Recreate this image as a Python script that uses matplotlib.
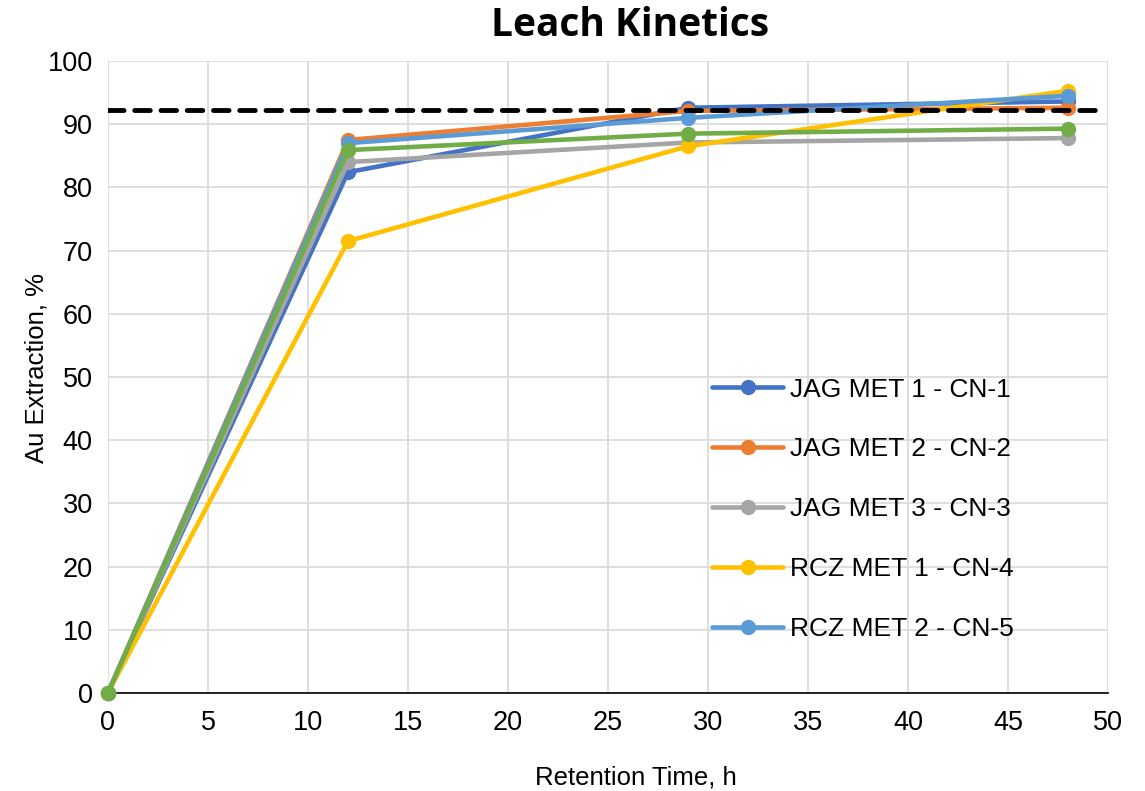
import matplotlib
matplotlib.use("Agg")
import matplotlib.pyplot as plt

time_h = [0, 12, 29, 48]
labels = ["JAG MET 1 - CN-1", "JAG MET 2 - CN-2", "JAG MET 3 - CN-3",
          "RCZ MET 1 - CN-4", "RCZ MET 2 - CN-5"]
jag1 = [0, 82.4, 92.6, 93.6]
jag2 = [0, 87.5, 92.1, 92.6]
jag3 = [0, 84.0, 87.1, 87.8]
rcz1 = [0, 71.5, 86.5, 95.3]
rcz2 = [0, 87.0, 91.0, 94.5]
extra = [0, 85.9, 88.5, 89.3]
target = 92.2

colors = ["#4472C4", "#ED7D31", "#A5A5A5", "#FFC000", "#5B9BD5"]
green = "#70AD47"

plt.rcParams['font.family'] = ['Liberation Sans', 'DejaVu Sans']
fig = plt.figure(figsize=(11.45, 7.91), dpi=100)
ax = fig.add_axes([0.0943, 0.124, 0.8734, 0.7989])

for vals, lab, c in zip([jag1, jag2, jag3, rcz1, rcz2], labels, colors):
    ax.plot(time_h, vals, color=c, lw=3.3, marker='o', ms=10, label=lab,
            solid_capstyle='round', clip_on=False, zorder=3)
ax.plot(time_h, extra, color=green, lw=3.3, marker='o', ms=10,
        solid_capstyle='round', clip_on=False, zorder=3)
ax.plot([0, 49.6], [target, target], color='black', lw=3.5,
        dashes=(3.2, 2.2), dash_capstyle='round', zorder=4)

ax.set_xlim(0, 50)
ax.set_ylim(0, 100)
ax.set_xticks(range(0, 51, 5))
ax.set_yticks(range(0, 101, 10))
ax.grid(True, color='#dcdcdc', lw=1.3)
ax.set_axisbelow(True)
for s in ['left', 'right', 'top']:
    ax.spines[s].set_visible(False)
ax.spines['bottom'].set_color('black')
ax.spines['bottom'].set_linewidth(1.2)
ax.tick_params(length=0, labelsize=19.5)
ax.tick_params(axis='x', pad=12)
ax.tick_params(axis='y', pad=11)

fig.text(630 / 1145, 1 - 26 / 791, "Leach Kinetics", fontsize=28,
         fontweight='bold', family=['Open Sans', 'DejaVu Sans'],
         ha='center', va='center')
fig.text(636 / 1145, 1 - 777 / 791, "Retention Time, h", fontsize=18.5,
         ha='center', va='center')
fig.text(37 / 1145, 1 - 368 / 791, "Au Extraction, %", fontsize=18.5,
         ha='center', va='center', rotation=90)

leg = ax.legend(loc='upper left', bbox_to_anchor=(0.604, 0.499), frameon=False,
                fontsize=19, labelspacing=1.36, handlelength=2.7,
                handletextpad=0.27, borderpad=0, borderaxespad=0)
fig.savefig("out.png", dpi=100)
